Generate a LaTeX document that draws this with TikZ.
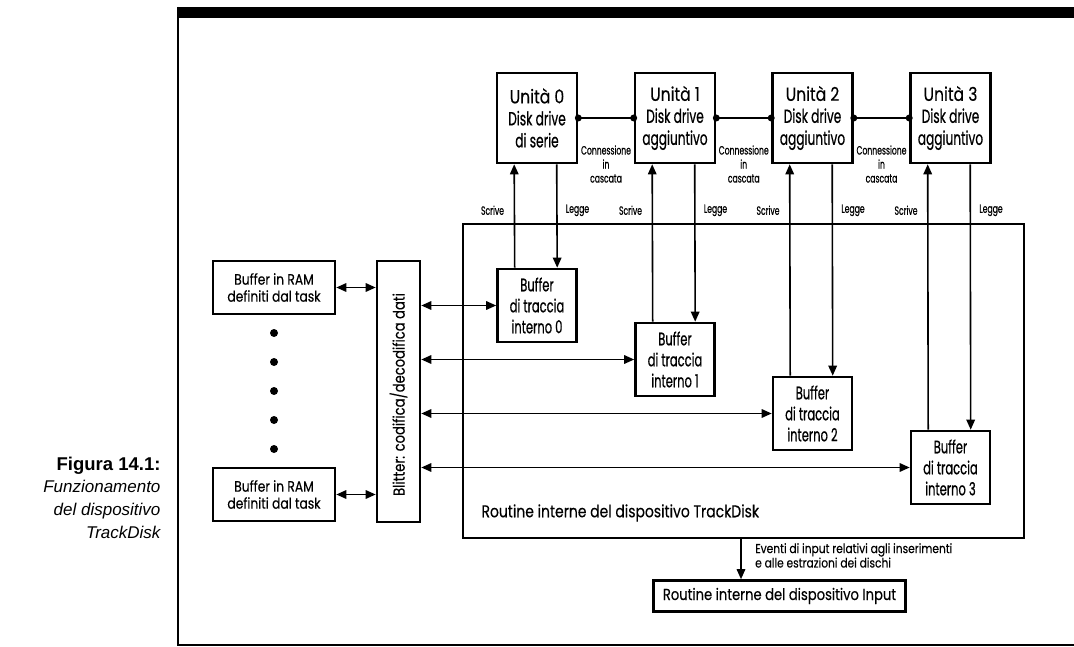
\documentclass[tikz,border=0pt]{standalone}
\usepackage{fontspec}
\setmainfont{Poppins}
\newfontfamily\condfont[FakeStretch=0.64,FakeBold=0.6]{Poppins}
\newfontfamily\bookfont[FakeStretch=0.82,FakeBold=0.3]{Poppins}
\newfontfamily\capfont{Liberation Sans}
\usetikzlibrary{arrows.meta,positioning,calc}

\tikzset{
  box/.style={draw,line width=2.6pt,align=center,inner sep=0pt},
  unitbox/.style={box,minimum width=80pt,minimum height=90pt,font=\condfont\fontsize{19}{22}\selectfont},
  trkbox/.style={box,minimum width=79pt,minimum height=73pt,font=\condfont\fontsize{18}{21}\selectfont},
  rambox/.style={box,minimum width=122pt,minimum height=53pt,font=\bookfont\fontsize{15}{17}\selectfont},
  lbl/.style={font=\condfont\fontsize{12}{14}\selectfont,align=center,inner sep=0pt},
  arr/.style={line width=1.6pt,-{Triangle[length=10pt,width=8.5pt]}},
  dbl/.style={line width=1.6pt,{Triangle[length=10pt,width=8.5pt]}-{Triangle[length=10pt,width=8.5pt]}},
}

\begin{document}
\begin{tikzpicture}[x=1pt,y=-1pt]
  \useasboundingbox (0,0) rectangle (1074,647);
  % page frame
  \fill (177,7) rectangle (1074,18);
  \draw[line width=2pt] (178,7) -- (178,645) -- (1074,645);

  % caption
  \node[anchor=base east,font=\capfont\bfseries\fontsize{18.5}{20}\selectfont] (fig) at (164,470) {Figura 14.1:};
  \foreach \y/\t in {492/Funzionamento,515/del dispositivo,538/TrackDisk}
    \node[anchor=base east,font=\capfont\itshape\fontsize{17}{20}\selectfont] at (164,\y) {\t};

  % routine TrackDisk
  \node[box,minimum width=561pt,minimum height=314pt] (td) at (743.5,381) {};
  \node[anchor=west,font=\bookfont\fontsize{17}{20}\selectfont] (tdlbl) at (478,513) {Routine interne del dispositivo TrackDisk};

  % units and track buffers
  \foreach \i/\ux/\by/\t in {0/537/305.5/di serie,1/675/359.5/aggiuntivo,2/812.5/413.5/aggiuntivo,3/950.5/467.5/aggiuntivo} {
    \node[unitbox] (u\i) at (\ux,118) {{\bookfont Unità \i}\\Disk drive\\\t};
    \node[trkbox] (b\i) at (\ux,\by) {Buffer\\di traccia\\interno \i};
    \draw[arr] ([xshift=18.5pt]b\i.north west) -- ([xshift=18.5pt]u\i.south west);
    \draw[arr] ([xshift=61pt]u\i.south west) -- ([xshift=61pt]b\i.north west);
    \path ([xshift=18.5pt]u\i.south west) ++(-10,46) node[lbl,anchor=east] {Scrive};
    \path ([xshift=61pt]u\i.south west) ++(9,46) node[lbl,anchor=west] {Legge};
  }
  \foreach \i/\j in {0/1,1/2,2/3} {
    \draw[line width=1.6pt] (u\i.east) -- (u\j.west);
    \fill (u\i.east) circle (3.5pt) (u\j.west) circle (3.5pt);
    \node[lbl] (c\i) at ($(u\i.east)!0.5!(u\j.west)+(0,46)$) {Connessione\\in\\cascata};
  }

  % blitter
  \node[box,minimum width=43pt,minimum height=261pt] (blit) at (398.5,391.5) {};
  \node[rotate=90,font=\bookfont\fontsize{16}{18}\selectfont] at ([yshift=-3pt]blit.center) {Blitter: codifica/decodifica dati};
  \foreach \i in {0,...,3}
    \draw[dbl] (b\i.west -| blit.east) -- (b\i.west);

  % task buffers
  \node[rambox] (ram1) at (274,287.5) {Buffer in RAM\\definiti dal task};
  \node[rambox] (ram2) at (274,494.5) {Buffer in RAM\\definiti dal task};
  \foreach \y in {333,362,391,420,449}
    \fill (274,\y) circle (4pt);
  \draw[dbl] (ram1.east) -- (ram1.east -| blit.west);
  \draw[dbl] (ram2.east) -- (ram2.east -| blit.west);

  % input device
  \node[box,minimum width=252pt,minimum height=31pt,font=\bookfont\fontsize{16}{20}\selectfont] (inp) at (779.5,596) {Routine interne del dispositivo Input};
  \coordinate (ev) at (741,0);
  \draw[arr] (td.south -| ev) -- (inp.north -| ev);
  \node[anchor=north west,align=left,inner sep=0pt,font=\bookfont\fontsize{13}{13}\selectfont] (evlbl) at (755,543) {Eventi di input relativi agli inserimenti\\e alle estrazioni dei dischi};
\end{tikzpicture}
\end{document}
